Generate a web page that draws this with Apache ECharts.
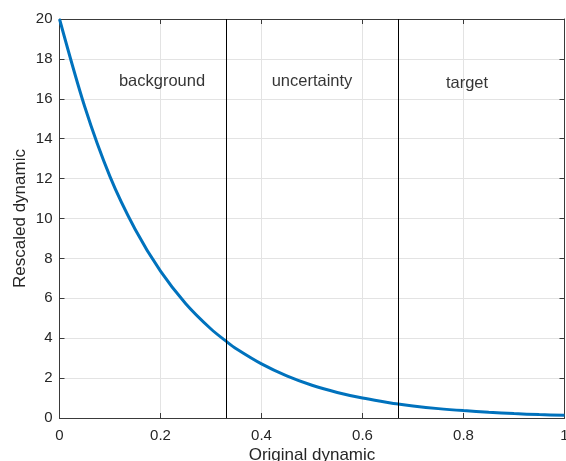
<!DOCTYPE html>
<html><head><meta charset="utf-8">
<script src="https://cdn.jsdelivr.net/npm/echarts@6/dist/echarts.min.js"></script>
<style>html,body{margin:0;padding:0;background:#fff}#c{width:566px;height:461px}</style>
</head><body><div id="c"></div>
<script>
const xValues = [0,0.05,0.1,0.15,0.2,0.25,0.3,0.3333,0.35,0.4,0.45,0.5,0.55,0.6,0.65,0.6667,0.7,0.75,0.8,0.85,0.9,0.95,1.0];
const yValues = [20,15.6,12.1,9.45,7.36,5.73,4.46,3.78,3.47,2.71,2.11,1.64,1.28,1.0,0.78,0.71,0.60,0.47,0.37,0.29,0.22,0.17,0.135];
const regionBounds = [0.3333, 0.6667];
const regionLabels = ['background','uncertainty','target'];
const labelX = [0.203, 0.5, 0.807];
const labelY = [16.85, 16.85, 16.75];
const xTicks = [0,0.2,0.4,0.6,0.8,1];
const yTicks = [0,2,4,6,8,10,12,14,16,18,20];

const axisColor = '#3a3a3a';
const font = 'Liberation Sans, Arial, sans-serif';
const chart = echarts.init(document.getElementById('c'), null, {renderer:'canvas'});
const common = {
  axisLine:{show:true,onZero:false,lineStyle:{color:axisColor,width:1}},
  axisTick:{show:true,inside:true,length:5,lineStyle:{color:axisColor}},
};
chart.setOption({
  animation:false,
  grid:{left:59.5,right:1.5,top:19,bottom:43,containLabel:false,outerBoundsMode:'none'},
  xAxis:[{
    type:'value',min:0,max:1,interval:0.2,position:'bottom',
    ...common,
    axisLabel:{color:'#262626',fontSize:15,fontFamily:font,margin:10,
      customValues:xTicks,formatter:v=>String(+(+v).toFixed(1))},
    axisTick:{...common.axisTick,customValues:xTicks},
    splitLine:{show:true,lineStyle:{color:'#e3e3e3',width:1}},
    name:'Original dynamic',nameLocation:'middle',nameGap:29,nameMoveOverlap:false,
    nameTextStyle:{color:'#262626',fontSize:17,fontFamily:font}
  },{
    type:'value',min:0,max:1,interval:0.2,position:'top',
    ...common,axisLabel:{show:false},splitLine:{show:false}
  }],
  yAxis:[{
    type:'value',min:0,max:20,interval:2,position:'left',
    ...common,
    axisLabel:{color:'#262626',fontSize:15,fontFamily:font,margin:7,customValues:yTicks},
    axisTick:{...common.axisTick,customValues:yTicks},
    splitLine:{show:true,lineStyle:{color:'#e3e3e3',width:1}},
    name:'Rescaled dynamic',nameLocation:'middle',nameGap:31,nameMoveOverlap:false,
    nameTextStyle:{color:'#262626',fontSize:17,fontFamily:font}
  },{
    type:'value',min:0,max:20,interval:2,position:'right',
    ...common,axisLabel:{show:false},splitLine:{show:false}
  }],
  series:[{
    type:'line',
    data:xValues.map((x,i)=>[x,yValues[i]]),
    smooth:0.3,showSymbol:false,symbol:'none',
    lineStyle:{color:'#0072BD',width:3},
    z:3,
    markLine:{
      silent:true,symbol:'none',label:{show:false},
      lineStyle:{color:'#000',width:1,type:'solid'},
      data:regionBounds.map(b=>({xAxis:b}))
    }
  },{
    type:'scatter',symbolSize:0,
    data:regionLabels.map((t,i)=>({value:[labelX[i],labelY[i]],name:t})),
    label:{show:true,position:'inside',formatter:p=>p.name,color:'#000',fontSize:16.5,fontFamily:font},
    z:4
  }]
});
</script></body></html>
